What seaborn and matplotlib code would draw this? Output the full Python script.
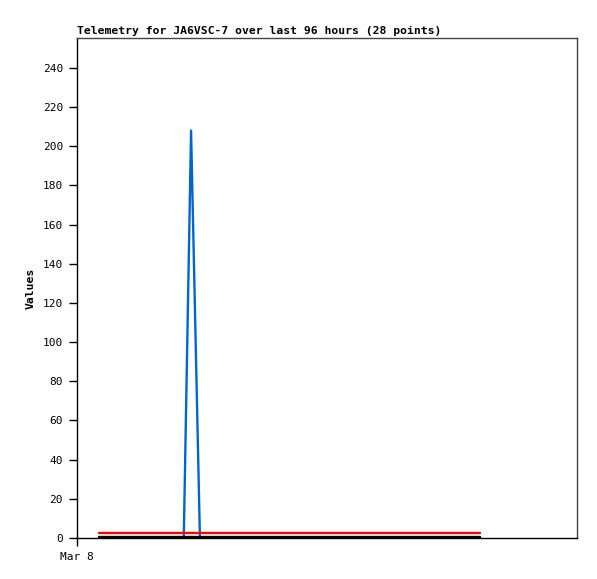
import pandas as pd
import matplotlib
matplotlib.use("Agg")
import matplotlib.pyplot as plt
import seaborn as sns

# ore dall'inizio di Mar 8 (28 punti)
hours = [4.2, 7.0, 9.8, 12.5, 15.3, 18.0, 20.5, 21.9, 23.6, 26.4,
         29.2, 32.0, 34.8, 37.6, 40.4, 43.2, 46.0, 48.8, 51.6, 54.4,
         57.2, 60.0, 62.8, 65.6, 68.4, 71.2, 74.3, 77.4]
series_blue = [0, 0, 0, 0, 0, 0, 0, 208, 0, 0,
               0, 0, 0, 0, 0, 0, 0, 0, 0, 0,
               0, 0, 0, 0, 0, 0, 0, 0]
series_red = [2.8] * 28
series_black = [0.7] * 28
series_names = ["ch1", "ch2", "ch3"]
series_colors = ["#0066cc", "#ff0000", "#000000"]
y_ticks = list(range(0, 241, 20))
x_tick_label = "Mar 8"
title = "Telemetry for JA6VSC-7 over last 96 hours (28 points)"

df = pd.DataFrame({"hour": hours, "ch1": series_blue, "ch2": series_red, "ch3": series_black})
long_df = df.melt(id_vars="hour", var_name="series", value_name="value")

sns.set_style("white")
plt.rcParams["font.family"] = ["DejaVu Sans Mono"]
plt.rcParams["text.color"] = "black"
plt.rcParams["axes.labelcolor"] = "black"
plt.rcParams["xtick.color"] = "black"
plt.rcParams["ytick.color"] = "black"

fig = plt.figure(figsize=(5.97, 5.79), dpi=100)
ax = fig.add_axes([77 / 597, 1 - 538 / 579, 500 / 597, 500 / 579])

sns.lineplot(data=long_df, x="hour", y="value", hue="series", hue_order=series_names,
             palette=series_colors, estimator=None, sort=False, linewidth=1.7,
             legend=False, ax=ax)

ax.set_xlim(0, 96)
ax.set_ylim(0, 255.3)
ax.set_yticks(y_ticks)
ax.set_yticklabels([str(v) for v in y_ticks], fontsize=8)
ax.set_xticks([0])
ax.set_xticklabels([x_tick_label], fontsize=8)
ax.tick_params(axis="both", direction="out", length=6, width=1, color="black",
               pad=4, left=True, bottom=True, labelcolor="black")

ax.set_xlabel("")
ax.set_ylabel("Values", fontsize=8.2, fontweight="bold", labelpad=5, color="black")
ax.set_title(title, loc="left", fontsize=8.2, fontweight="bold", pad=3, color="black")

for side in ["left", "bottom"]:
    ax.spines[side].set_color("black")
    ax.spines[side].set_linewidth(1)
for side in ["top", "right"]:
    ax.spines[side].set_color("#444444")
    ax.spines[side].set_linewidth(1)

fig.savefig("out.png", dpi=100)
